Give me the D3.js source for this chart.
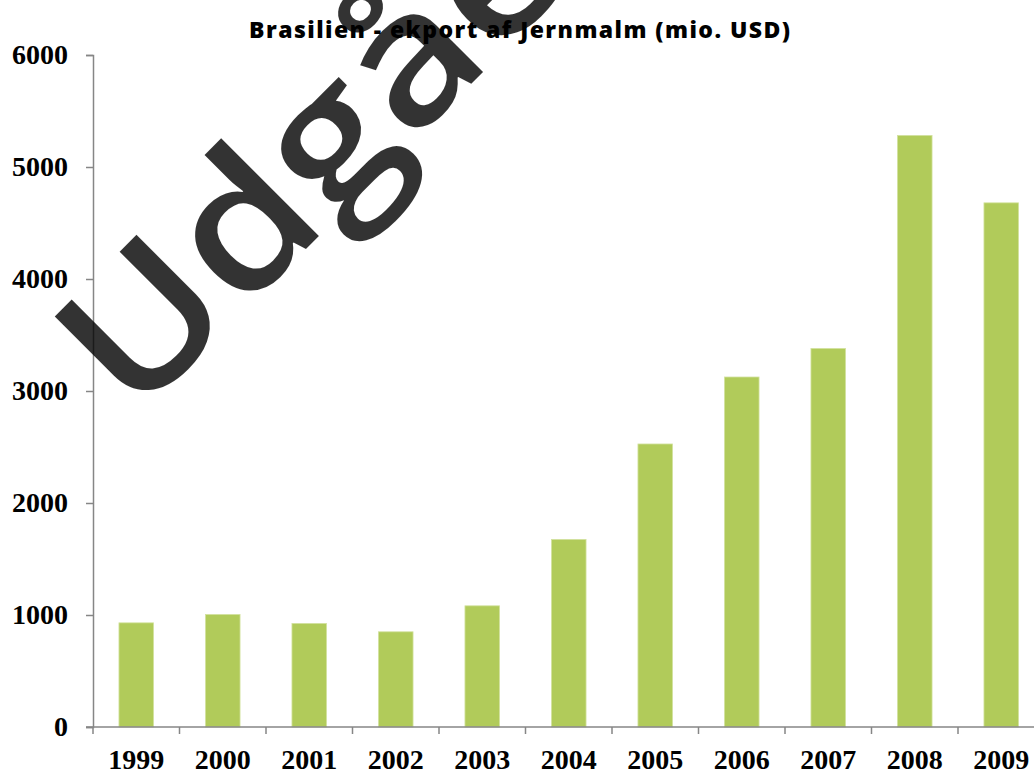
<html>
<head>
    <style>
        body { margin: 0; background: #fff; }
        svg { display: block; }
    </style>
    <script src="https://cdn.jsdelivr.net/npm/d3@7"></script>
</head>
<body>
    <svg id="container" width="1034" height="776"></svg>
</body>
<script>
    // data
    let years = ["1999","2000","2001","2002","2003","2004","2005","2006","2007","2008","2009"]
    let exportValues = [930, 1005, 925, 850, 1082, 1675, 2527, 3125, 3380, 5282, 4680]
    let yTicks = [0, 1000, 2000, 3000, 4000, 5000, 6000]
    let title = "Brasilien - ekport af Jernmalm (mio. USD)"
    let watermark = "Udgået"

    let svg = d3.select("#container")
    let plotLeft = 93, plotBottom = 727, plotTop = 55
    let step = 86.5

    let x = d3.scaleBand()
        .domain(years)
        .range([plotLeft, plotLeft + step * years.length])
        .paddingInner(0.6)
        .paddingOuter(0.3)

    let y = d3.scaleLinear()
        .domain([0, 6000])
        .range([plotBottom, plotTop])

    // bars
    svg.append("g").selectAll("rect")
        .data(years)
        .enter().append("rect")
        .attr("x", d => x(d))
        .attr("width", x.bandwidth())
        .attr("y", (d, i) => y(exportValues[i]))
        .attr("height", (d, i) => y(0) - y(exportValues[i]))
        .attr("fill", "#b1cb5a")
        .attr("stroke", "#d3e2a0")
        .attr("stroke-width", 0.8)

    // y axis
    let yAxis = svg.append("g")
        .attr("transform", `translate(${plotLeft},0)`)
        .call(d3.axisLeft(y).tickValues(yTicks).tickSize(7).tickPadding(18).tickFormat(d3.format("d")))
    yAxis.select(".domain").attr("stroke", "#868686").attr("stroke-width", 1.5)
    yAxis.selectAll(".tick line").attr("stroke", "#868686").attr("stroke-width", 1.5)
    yAxis.selectAll("text")
        .attr("font-family", "'Liberation Serif', 'DejaVu Serif', serif")
        .attr("font-weight", "bold")
        .attr("font-size", 28)
        .attr("fill", "#000")

    // x axis: line + boundary ticks + labels
    let xg = svg.append("g")
    xg.append("line")
        .attr("x1", plotLeft - 7).attr("x2", 1034)
        .attr("y1", plotBottom).attr("y2", plotBottom)
        .attr("stroke", "#868686").attr("stroke-width", 1.5)
    xg.selectAll(".bt")
        .data(d3.range(years.length + 1))
        .enter().append("line")
        .attr("x1", i => x.range()[0] + i * x.step())
        .attr("x2", i => x.range()[0] + i * x.step())
        .attr("y1", plotBottom).attr("y2", plotBottom + 7)
        .attr("stroke", "#868686").attr("stroke-width", 1.5)
    xg.selectAll("text")
        .data(years)
        .enter().append("text")
        .attr("x", d => x(d) + x.bandwidth() / 2)
        .attr("y", 769)
        .attr("text-anchor", "middle")
        .attr("font-family", "'Liberation Serif', 'DejaVu Serif', serif")
        .attr("font-weight", "bold")
        .attr("font-size", 28)
        .text(d => d)

    // title
    svg.append("text")
        .attr("x", 249)
        .attr("y", 38)
        .attr("textLength", 541)
        .attr("lengthAdjust", "spacing")
        .attr("font-family", "'Open Sans', 'Noto Sans', sans-serif")
        .attr("font-weight", 800)
        .attr("font-size", 23)
        .text(title)

    // watermark, drawn over the chart
    svg.append("text")
        .attr("transform", "translate(134,421) rotate(-45) scale(1.12,1)")
        .attr("font-family", "'Open Sans', 'Noto Sans', sans-serif")
        .attr("font-weight", 600)
        .attr("font-size", 182)
        .attr("fill", "#000")
        .attr("fill-opacity", 0.8)
        .text(watermark)
</script>
</html>
